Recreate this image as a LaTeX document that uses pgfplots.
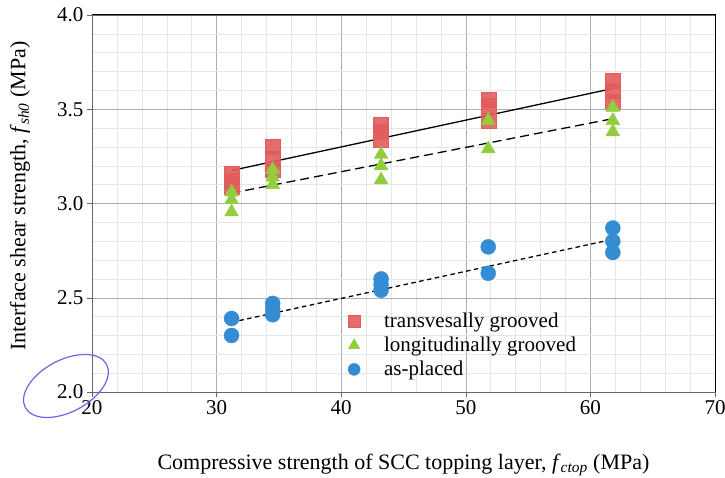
\documentclass[border=0pt]{standalone}
\usepackage{pgfplots}
\pgfplotsset{compat=1.18}
\usepackage{fontspec}
\setmainfont{Liberation Serif}
\definecolor{cred}{RGB}{226,92,92}
\definecolor{cgreen}{RGB}{145,205,60}
\definecolor{cblue}{RGB}{52,140,210}
\definecolor{cmaj}{RGB}{165,175,188}
\definecolor{cmin}{RGB}{228,230,234}
\definecolor{cpurple}{RGB}{130,90,230}
\begin{document}
\begin{tikzpicture}
\begin{axis}[
  at={(0,0)}, anchor=south west,
  scale only axis,
  width=623pt, height=377pt,
  xmin=20, xmax=70, ymin=2.0, ymax=4.0,
  xtick={20,30,...,70}, ytick={2.0,2.5,...,4.0},
  minor x tick num=4, minor y tick num=4,
  grid=both,
  major grid style={cmaj, line width=0.5pt},
  minor grid style={cmin, line width=0.5pt},
  tick align=outside, xtick pos=left, ytick pos=left,
  major tick length=5pt, minor tick length=0pt,
  tick style={gray!80!black, line width=0.5pt},
  axis line style={gray!80!black, line width=0.6pt},
  /pgf/number format/assume math mode=true,
  yticklabel style={/pgf/number format/fixed, /pgf/number format/fixed zerofill, /pgf/number format/precision=1},
  ticklabel style={font=\fontsize{21}{24}\selectfont},
  xlabel={Compressive strength of SCC topping layer, \textit{f}\textsubscript{\textit{ctop}} (MPa)},
  ylabel={Interface shear strength, \textit{f}\textsubscript{\textit{sh0}} (MPa)},
  every axis x label/.style={at={(axis description cs:0.5,0)}, yshift=-73pt, anchor=center, font=\fontsize{22}{26}\selectfont},
  every axis y label/.style={at={(axis description cs:0,0.52)}, xshift=-72pt, rotate=90, anchor=center, font=\fontsize{22}{26}\selectfont},
  clip=false,
  legend cell align=left,
  legend style={at={(axis cs:40.3,2.435)}, anchor=north west, draw=none, fill=none,
    font=\fontsize{21}{24}\selectfont, row sep=6pt, column sep=23pt,
    nodes={inner sep=1pt}},
  legend image code/.code={\draw[#1] plot coordinates {(0.25cm,0cm)};},
]
\addplot[only marks, mark=square*, mark size=7.5pt, color=cred, mark options={draw=none, fill=cred, fill opacity=0.9}, legend image post style={mark size=6pt}]
  coordinates {(31.2,3.16) (31.2,3.12) (31.2,3.09)
               (34.5,3.30) (34.5,3.24) (34.5,3.18)
               (43.2,3.42) (43.2,3.38) (43.2,3.34)
               (51.8,3.55) (51.8,3.52) (51.8,3.44)
               (61.8,3.65) (61.8,3.60) (61.8,3.54)};
\addlegendentry{transvesally grooved}
\addplot[only marks, mark=triangle*, mark size=8pt, color=cgreen, mark options={draw=none, fill=cgreen}, legend image post style={mark size=6.5pt}]
  coordinates {(31.2,3.06) (31.2,3.02) (31.2,2.955)
               (34.5,3.18) (34.5,3.14) (34.5,3.10)
               (43.2,3.26) (43.2,3.20) (43.2,3.125)
               (51.8,3.44) (51.8,3.29)
               (61.8,3.51) (61.8,3.44) (61.8,3.38)};
\addlegendentry{longitudinally grooved}
\addplot[only marks, mark=*, mark size=7.5pt, color=cblue, mark options={draw=none, fill=cblue}, legend image post style={mark size=6pt}]
  coordinates {(31.2,2.39) (31.2,2.30)
               (34.5,2.47) (34.5,2.44) (34.5,2.41)
               (43.2,2.60) (43.2,2.57) (43.2,2.54)
               (51.8,2.77) (51.8,2.63)
               (61.8,2.87) (61.8,2.80) (61.8,2.74)};
\addlegendentry{as-placed}
\addplot[forget plot, black, line width=1.3pt] coordinates {(31.2,3.175) (61.8,3.61)};
\addplot[forget plot, black, line width=1.3pt, dash pattern=on 9pt off 5pt] coordinates {(31.2,3.055) (61.8,3.45)};
\addplot[forget plot, black, line width=1.3pt, dash pattern=on 4.5pt off 3.5pt] coordinates {(31.2,2.37) (61.8,2.81)};
\draw[black, line width=1pt] (rel axis cs:0,1) -- (rel axis cs:1,1) -- (rel axis cs:1,0);
\draw[cpurple, line width=1.2pt, rotate around={28:(axis cs:17.91,2.032)}] (axis cs:17.91,2.032) ellipse [x radius=46pt, y radius=26pt];
\end{axis}
\pgfresetboundingbox
\path[use as bounding box] (-92pt,-85pt) rectangle (633pt,392pt);
\end{tikzpicture}
\end{document}
